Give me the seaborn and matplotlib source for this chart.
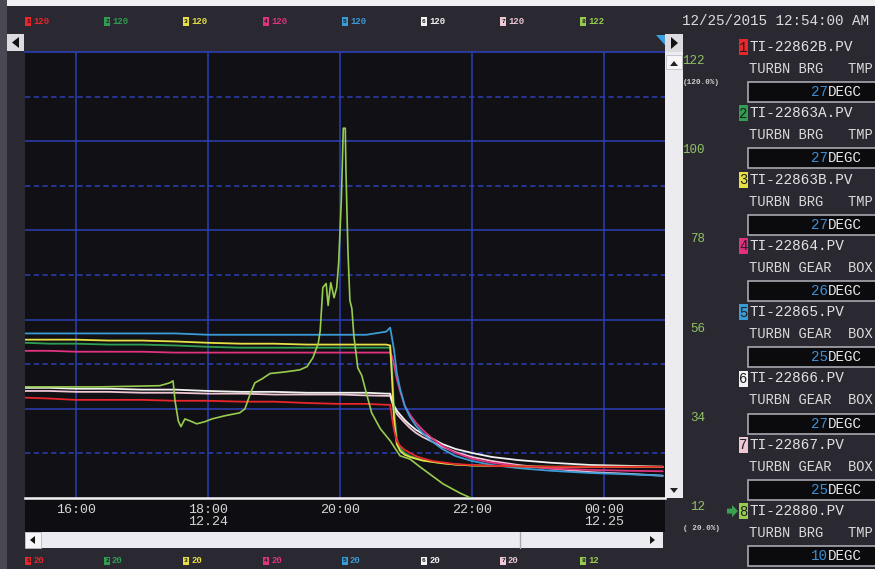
import numpy as np
import pandas as pd
import matplotlib
matplotlib.use("Agg")
import matplotlib.pyplot as plt
import seaborn as sns
from matplotlib.patches import Rectangle, Polygon
from matplotlib.lines import Line2D
from matplotlib.transforms import blended_transform_factory, offset_copy

# ---------------- trend data (time in hours from 12/24 00:00) ----------------
time_h = [15.23, 15.60, 16.00, 16.50, 17.00, 17.50, 18.00, 18.50, 19.00, 19.50,
          20.00, 20.40, 20.70, 20.76, 20.79, 20.82, 20.86, 20.91, 20.98, 21.06,
          21.15, 21.25, 21.40, 21.55, 21.75, 22.00, 22.30, 22.70, 23.20, 23.80,
          24.40, 24.89]

pen1_ti22862b = [42.5, 42.3, 42.0, 42.0, 42.0, 41.8, 41.8, 41.6, 41.6, 41.3,
                 41.1, 41.1, 40.9, 40.9, 37.8, 35.1, 32.8, 31.7, 30.8, 30.1,
                 29.4, 28.9, 28.3, 28.0, 27.6, 27.4, 27.2, 27.1, 27.0, 27.0,
                 27.0, 27.0]
pen2_ti22863a = [54.8, 54.6, 54.6, 54.4, 54.4, 54.2, 53.9, 53.7, 53.7, 53.7,
                 53.7, 53.7, 53.7, 53.7, 48.5, 39.6, 33.3, 31.2, 30.1, 29.4,
                 29.0, 28.5, 28.1, 27.8, 27.5, 27.3, 27.2, 27.1, 27.0, 27.0,
                 27.0, 27.0]
pen3_ti22863b = [55.5, 55.5, 55.5, 55.3, 55.3, 55.1, 54.8, 54.6, 54.6, 54.4,
                 54.4, 54.4, 54.4, 54.2, 46.3, 37.3, 32.1, 30.6, 29.7, 29.2,
                 28.8, 28.4, 28.1, 27.8, 27.5, 27.3, 27.2, 27.1, 27.0, 27.0,
                 27.0, 27.0]
pen4_ti22864 = [53.0, 53.0, 52.8, 52.8, 52.8, 52.6, 52.6, 52.6, 52.6, 52.6,
                52.6, 52.6, 52.6, 52.6, 51.7, 49.7, 46.7, 44.0, 40.7, 38.7,
                36.9, 35.3, 33.3, 31.7, 30.1, 28.8, 27.9, 27.2, 26.6, 26.3,
                26.1, 26.0]
pen5_ti22865 = [56.9, 56.9, 56.9, 56.9, 56.9, 56.9, 56.6, 56.6, 56.6, 56.6,
                56.6, 56.6, 57.3, 58.2, 55.7, 53.0, 48.1, 44.5, 40.7, 38.2,
                36.2, 34.6, 32.6, 31.0, 29.4, 28.3, 27.4, 26.7, 26.1, 25.6,
                25.3, 25.0]
pen6_ti22866 = [44.7, 44.7, 44.5, 44.5, 44.3, 44.3, 44.0, 43.8, 43.8, 43.6,
                43.6, 43.6, 43.4, 43.4, 41.8, 40.7, 39.6, 38.7, 37.5, 36.4,
                35.3, 34.4, 33.3, 32.1, 31.0, 30.1, 29.2, 28.5, 27.9, 27.4,
                27.2, 27.0]
pen7_ti22867 = [44.0, 44.0, 43.8, 43.8, 43.6, 43.6, 43.4, 43.4, 43.2, 43.2,
                43.2, 43.0, 42.9, 42.9, 41.4, 40.0, 38.9, 38.0, 36.9, 35.7,
                34.6, 33.7, 32.6, 31.5, 30.3, 29.2, 28.3, 27.4, 26.6, 25.8,
                25.4, 25.0]

# pen 8 has its own sample times and its own scale (12..122)
time8_h = [15.23, 16.36, 17.27, 17.42, 17.47, 17.50, 17.55, 17.59, 17.65, 17.73,
           17.83, 17.95, 18.06, 18.26, 18.48, 18.56, 18.64, 18.71, 18.82, 18.94,
           19.17, 19.39, 19.50, 19.59, 19.67, 19.70, 19.74, 19.79, 19.82, 19.86,
           19.91, 19.95, 19.98, 20.02, 20.05, 20.08, 20.09, 20.12, 20.15, 20.18,
           20.21, 20.27, 20.33, 20.41, 20.48, 20.61, 20.76, 20.91, 21.06, 21.21,
           21.36, 21.56, 21.82, 22.05, 22.42, 24.89]
pen8_ti22880 = [39.4, 39.4, 39.7, 40.4, 40.9, 36.0, 31.0, 29.6, 31.5, 31.0,
                30.3, 30.8, 31.5, 32.3, 33.0, 34.0, 37.7, 40.4, 41.4, 42.7,
                43.1, 43.6, 44.4, 46.6, 50.1, 53.3, 63.9, 64.9, 59.5, 65.1,
                61.4, 63.9, 70.1, 85.4, 103.2, 103.2, 92.8, 73.1, 60.7, 58.7,
                52.0, 44.1, 42.2, 37.2, 33.0, 29.1, 26.1, 22.4, 21.6, 19.7,
                17.9, 15.5, 13.2, 11.5, 10.0, 10.0]

pen_tags = ["TI-22862B.PV", "TI-22863A.PV", "TI-22863B.PV", "TI-22864.PV",
            "TI-22865.PV", "TI-22866.PV", "TI-22867.PV", "TI-22880.PV"]
pen_descs = ["TURBN BRG   TMP", "TURBN BRG   TMP", "TURBN BRG   TMP",
             "TURBN GEAR  BOX", "TURBN GEAR  BOX", "TURBN GEAR  BOX",
             "TURBN GEAR  BOX", "TURBN BRG   TMP"]
pen_units = "DEGC"
scale_hi = [120, 120, 120, 120, 120, 120, 120, 122]
scale_lo = [20, 20, 20, 20, 20, 20, 20, 12]
pen8_ticks = [12, 34, 56, 78, 100, 122]
time_ticks = [16, 18, 20, 22, 24]
time_labels = ["16:00", "18:00\n12.24", "20:00", "22:00", "00:00\n12.25"]
timestamp = "12/25/2015 12:54:00 AM"

pen_colors = ["#e8262c", "#2f9e52", "#e6e044", "#e0327f",
              "#3a9bd6", "#f2f2f2", "#eec6d4", "#98cc4e"]

# ---------------- styling ----------------
sns.set_theme(style="dark")
plt.rcParams["font.family"] = ["Liberation Mono", "DejaVu Sans Mono", "DejaVu Sans"]

W, H = 875, 569
FRAME_BG = "#2a2931"
PLOT_BG = "#111115"
GRID = "#2b3fb5"
TXT = "#dcdcdc"

fig = plt.figure(figsize=(W / 100, H / 100), dpi=100, facecolor=FRAME_BG)


def fx(x):
    return x / W


def fy(y):
    return 1 - y / H


def rect(x0, y0, x1, y1, fc, ec="none", lw=0.0, z=1):
    fig.patches.append(Rectangle((fx(x0), fy(y1)), (x1 - x0) / W, (y1 - y0) / H,
                                 transform=fig.transFigure, facecolor=fc,
                                 edgecolor=ec, linewidth=lw, zorder=z))


def poly(pts, fc, z=2):
    fig.patches.append(Polygon([(fx(x), fy(y)) for x, y in pts], closed=True,
                               transform=fig.transFigure, facecolor=fc,
                               edgecolor="none", zorder=z))


def text(x, y, s, **kw):
    kw.setdefault("va", "center")
    kw.setdefault("ha", "left")
    fig.text(fx(x), fy(y), s, **kw)


# frame decorations
rect(0, 0, W, 6, "#f0f0f3", z=-2)
rect(0, 0, 7, H, "#4a4852", z=-2)
rect(25, 498, 665, 532, "#0e0e12", z=-2)

# ---------------- trend axes ----------------
ax = fig.add_axes([fx(25), fy(498), (665 - 25) / W, (498 - 52) / H])
ax.set_facecolor(PLOT_BG)

series = [pen1_ti22862b, pen2_ti22863a, pen3_ti22863b, pen4_ti22864,
          pen5_ti22865, pen6_ti22866, pen7_ti22867]
df = pd.DataFrame({
    "time": np.tile(time_h, len(series)),
    "value": np.concatenate(series),
    "pen": np.repeat(pen_tags[:7], len(time_h)),
})
order = [pen_tags[i] for i in (6, 5, 3, 4, 1, 2, 0)]
sns.lineplot(data=df, x="time", y="value", hue="pen", hue_order=order,
             palette={pen_tags[i]: pen_colors[i] for i in range(7)},
             estimator=None, sort=False, linewidth=1.3, legend=False, ax=ax)

ax.set_xlim(16 + (25 - 76) / 66, 16 + (665 - 76) / 66)
ax.set_ylim(scale_lo[0], scale_hi[0])
ax.set_xticks(time_ticks)
ax.set_xticklabels(time_labels)
ax.set_yticks([40, 60, 80, 100])
ax.set_yticks([30, 50, 70, 90, 110], minor=True)
ax.set_yticklabels([])
ax.set_axisbelow(True)
ax.grid(which="major", axis="both", color=GRID, linewidth=1.1, linestyle="-")
ax.grid(which="minor", axis="y", color=GRID, linewidth=1.1, linestyle=(0, (3.5, 2.2)))
ax.tick_params(axis="both", which="both", length=0)
ax.tick_params(axis="x", colors="#d6d6d6", labelsize=9.6, pad=4)
for lbl in ax.get_xticklabels():
    lbl.set_linespacing(1.05)
ax.set_xlabel("")
ax.set_ylabel("")
for side in ("left", "right"):
    ax.spines[side].set_visible(False)
ax.spines["top"].set_color(GRID)
ax.spines["top"].set_linewidth(1.2)
ax.spines["bottom"].set_color("#f4f4f4")
ax.spines["bottom"].set_linewidth(1.8)

# pen 8 on its own scale
ax2 = ax.twinx()
ax2.patch.set_visible(False)
df8 = pd.DataFrame({"time": time8_h, "value": pen8_ti22880})
sns.lineplot(data=df8, x="time", y="value", color=pen_colors[7],
             estimator=None, sort=False, linewidth=1.2, ax=ax2)
ax2.set_ylim(scale_lo[7], scale_hi[7])
ax2.set_yticks([])
ax2.set_ylabel("")
ax2.grid(False)
for sp in ax2.spines.values():
    sp.set_visible(False)
lbl_tr = offset_copy(blended_transform_factory(ax2.transAxes, ax2.transData),
                     fig=fig, x=40, y=-9, units="dots")
for v in pen8_ticks:
    ax2.text(1.0, v, str(v), transform=lbl_tr, ha="right", va="center",
             fontsize=9, color="#92c266", clip_on=False)
text(683, 82, "(%.1f%%)" % 120.0, fontsize=5.6, color="#cfcfcf", fontweight="bold")
text(683, 528, "(%5.1f%%)" % 20.0, fontsize=5.6, color="#cfcfcf", fontweight="bold")

# ---------------- scroll bars and buttons ----------------
rect(7, 34, 24, 51, "#dcdce0")
poly([(12, 42.5), (19, 37), (19, 48)], "#111111")
rect(665, 34, 683, 52, "#dcdce0")
poly([(671, 37), (678, 43), (671, 49)], "#111111")
poly([(656, 35), (665, 35), (665, 45)], "#3aa0e0")

rect(665, 52, 683, 498, "#ececf0")
rect(666, 55, 682, 69, "#f6f6f8", ec="#c0c0c8", lw=0.6)
poly([(670, 66), (678, 66), (674, 61)], "#222222", z=3)
poly([(670, 488), (678, 488), (674, 493)], "#222222", z=3)

rect(25, 532, 663, 548, "#ececf0")
rect(25, 532, 41, 548, "#f6f6f8", ec="#b8b8c0", lw=0.6)
poly([(30, 540), (35, 536), (35, 544)], "#111111", z=3)
fig.lines.append(Line2D([fx(520), fx(520)], [fy(532), fy(548)], transform=fig.transFigure,
                        color="#a8a8b0", linewidth=1.0))
poly([(650, 536), (655, 540), (650, 544)], "#111111", z=3)

# ---------------- pen scale strips (top = high, bottom = low) ----------------
strip_x = [25, 104, 183, 263, 342, 421, 500, 580]
for i, x0 in enumerate(strip_x):
    for yc, val in ((21.5, scale_hi[i]), (560.5, scale_lo[i])):
        rect(x0, yc - 4, x0 + 6, yc + 4, pen_colors[i], z=2)
        text(x0 + 3, yc, str(i + 1), fontsize=4.5, color="#1a1a1a", ha="center",
             fontweight="bold")
        text(x0 + 8, yc, str(val), fontsize=6.4, color=pen_colors[i], fontweight="bold")

# ---------------- right-hand pen panel ----------------
text(682, 21, timestamp, fontsize=10.3, color=TXT)
current = [series[k][-1] for k in range(7)] + [pen8_ti22880[-1]]
for k in range(8):
    ny = 47 + 66.3 * k
    rect(739, ny - 8, 748, ny + 8, pen_colors[k], z=2)
    text(743.5, ny + 0.5, str(k + 1), fontsize=10, color="#1e1e1e", ha="center")
    text(749, ny, pen_tags[k], fontsize=10.4, color="#e2e2e2")
    text(749, ny + 22, pen_descs[k], fontsize=9.9, color="#dadada")
    rect(748, ny + 35, 890, ny + 55, "#0b0b0e", ec="#a8a8b0", lw=1.2)
    text(828, ny + 45, "%d" % round(current[k]), fontsize=10.2, color="#3d8fd4", ha="right")
    text(828, ny + 45, pen_units, fontsize=10.2, color="#e8e8e8")

ny8 = 47 + 66.3 * 7
poly([(727, ny8 - 2.5), (732, ny8 - 2.5), (732, ny8 - 6), (738, ny8),
      (732, ny8 + 6), (732, ny8 + 2.5), (727, ny8 + 2.5)], "#3aa050")

fig.savefig("out.png", dpi=100, facecolor=FRAME_BG)
